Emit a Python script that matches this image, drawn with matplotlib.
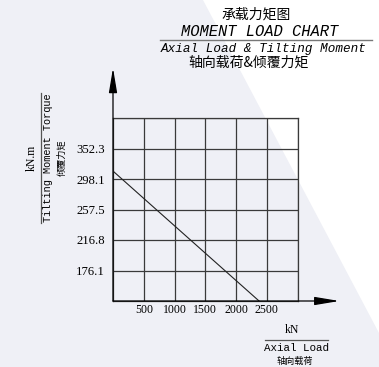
import numpy as np
import matplotlib
matplotlib.use('Agg')
import matplotlib.pyplot as plt
from matplotlib.patches import Polygon

# data
axial_ticks = [500, 1000, 1500, 2000, 2500]
moment_ticks = [176.1, 216.8, 257.5, 298.1, 352.3]
moment_rows = [1, 2, 3, 4, 5]
# row 0 sits one step (40.7) below the first label
row_values = [135.4] + moment_ticks
load_line_kn = [0, 2375]
load_line_moment = [312.2, 135.4]

W, H = 379, 367
fig = plt.figure(figsize=(W / 100, H / 100), dpi=100)
fig.patch.set_facecolor('white')

def fx(px):
	return px / W

def fy(py):
	return 1 - py / H

# light diagonal background
bg = Polygon([(fx(0), fy(0)), (fx(203), fy(0)), (fx(379), fy(333)), (fx(379), fy(367)), (fx(0), fy(367))],
	closed=True, transform=fig.transFigure, facecolor='#eff0f6', edgecolor='none', zorder=-10)
fig.patches.append(bg)

ax = fig.add_axes([fx(113), fy(301), fx(297.5) - fx(113), (301 - 118) / H])
ax.set_zorder(5)
ax.set_facecolor('none')
ax.set_xlim(0, 3000)
ax.set_ylim(0, 6)

gc = '#3a3a3a'
for v in range(500, 3001, 500):
	ax.axvline(v, color=gc, lw=0.9)
for r in range(1, 7):
	ax.axhline(r, color=gc, lw=0.9)
for s in ax.spines.values():
	s.set_color(gc)
	s.set_linewidth(0.9)

ax.set_xticks(axial_ticks)
ax.set_xticklabels([str(v) for v in axial_ticks], family='Liberation Serif', fontsize=8.5)
ax.set_yticks(moment_rows)
ax.set_yticklabels(['%.1f' % v for v in moment_ticks], family='Liberation Serif', fontsize=9.2)
ax.tick_params(length=0)
ax.tick_params(axis='y', pad=6)
ax.tick_params(axis='x', pad=2.5)

# load curve
rows = np.interp(load_line_moment, row_values, range(len(row_values)))
ax.plot(load_line_kn, rows, color='#222222', lw=0.8)

# axis arrows
ap = dict(arrowstyle='-|>,head_length=1.5,head_width=0.25', color='black', lw=0.9, shrinkA=0, shrinkB=0)
ax.annotate('', xy=(0, 7.64), xytext=(0, 0), arrowprops=ap, annotation_clip=False)
ax.annotate('', xy=(3680, 0), xytext=(0, 0), arrowprops=ap, annotation_clip=False)

cjk = ['Noto Sans CJK SC', 'DejaVu Sans']
mono = 'Liberation Mono'

# title block
fig.text(fx(256), fy(15), '承载力矩图', family=cjk, fontsize=10, ha='center', va='center')
fig.text(fx(260), fy(31), 'MOMENT LOAD CHART', family=mono, style='italic', fontsize=11.2, ha='center', va='center')
fig.add_artist(plt.Line2D([fx(160), fx(372)], [fy(40), fy(40)], color='#777777', lw=1.0, transform=fig.transFigure))
fig.text(fx(264), fy(49), 'Axial Load & Tilting Moment', family=mono, style='italic', fontsize=9.1, ha='center', va='center')
fig.text(fx(249), fy(63), '轴向载荷&倾覆力矩', family=cjk, fontsize=10, ha='center', va='center')

# y label block
fig.text(fx(32), fy(158), 'kN.m', family='Liberation Serif', fontsize=8.5, rotation=90, ha='center', va='center')
fig.add_artist(plt.Line2D([fx(41), fx(41)], [fy(93), fy(223)], color='#555555', lw=0.9, transform=fig.transFigure))
fig.text(fx(48), fy(158), 'Tilting Moment Torque', family=mono, fontsize=7.4, rotation=90, ha='center', va='center')
fig.text(fx(62), fy(158), '倾覆力矩', family=cjk, fontsize=6.6, rotation=90, ha='center', va='center')

# x label block
fig.text(fx(292), fy(330), 'kN', family='Liberation Serif', fontsize=8.5, ha='center', va='center')
fig.add_artist(plt.Line2D([fx(265), fx(328)], [fy(340), fy(340)], color='#555555', lw=0.9, transform=fig.transFigure))
fig.text(fx(296), fy(348), 'Axial Load', family=mono, fontsize=7.8, ha='center', va='center')
fig.text(fx(295), fy(361), '轴向载荷', family=cjk, fontsize=6.6, ha='center', va='center')

fig.savefig('out.png', dpi=100)
